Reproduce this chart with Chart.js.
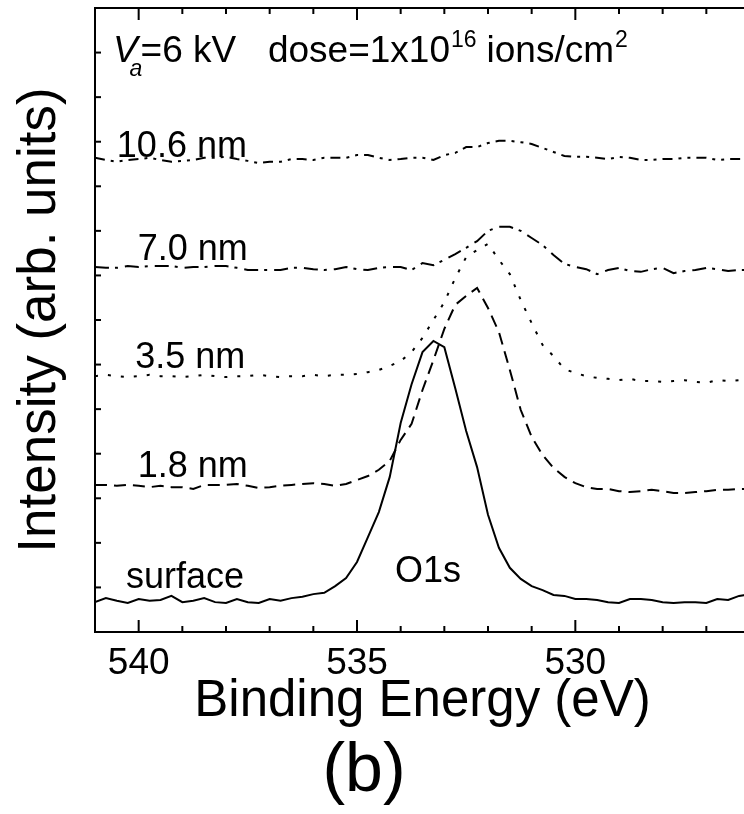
<!DOCTYPE html>
<html><head><meta charset="utf-8">
<script src="https://cdn.jsdelivr.net/npm/chart.js@4.4.0/dist/chart.umd.min.js"></script>
<style>
html,body{margin:0;padding:0;background:#fff;overflow:hidden;}
#wrap{width:760px;height:814px;position:relative;}
</style></head><body>
<div id="wrap"><canvas id="c"></canvas></div>
<script>
// ---- data (binding energy in eV, intensity in arb. units) ----
const energies = [541,540.75,540.5,540.25,540,539.75,539.5,539.25,539,538.75,
  538.5,538.25,538,537.75,537.5,537.25,537,536.75,536.5,536.25,
  536,535.75,535.5,535.25,535,534.75,534.5,534.25,534,533.75,
  533.5,533.25,533,532.75,532.5,532.25,532,531.75,531.5,531.25,
  531,530.75,530.5,530.25,530,529.75,529.5,529.25,529,528.75,
  528.5,528.25,528,527.75,527.5,527.25,527,526.75,526.5,526.25,526];
const surface = [0.67,0.76,0.70,0.65,0.74,0.70,0.72,0.81,0.67,0.70,
  0.76,0.67,0.65,0.74,0.67,0.65,0.74,0.70,0.76,0.79,
  0.85,0.88,1.03,1.21,1.57,2.13,2.69,3.48,4.69,5.56,
  6.28,6.53,6.39,5.47,4.51,3.70,2.63,1.89,1.44,1.19,
  1.03,0.94,0.83,0.81,0.74,0.74,0.72,0.67,0.65,0.74,
  0.74,0.72,0.67,0.65,0.67,0.67,0.65,0.74,0.72,0.81,0.85];
const nm18 = [3.30,3.30,3.28,3.30,3.28,3.25,3.28,3.25,3.25,3.21,
  3.30,3.30,3.30,3.32,3.28,3.23,3.25,3.28,3.30,3.32,
  3.34,3.32,3.28,3.32,3.41,3.50,3.64,3.84,4.31,4.67,
  5.43,6.10,6.80,7.34,7.54,7.72,7.27,6.73,5.88,4.98,
  4.38,3.97,3.68,3.48,3.34,3.25,3.21,3.21,3.16,3.14,
  3.16,3.19,3.16,3.12,3.12,3.14,3.16,3.19,3.19,3.21,3.21];
const nm35 = [5.74,5.77,5.74,5.72,5.74,5.77,5.74,5.74,5.72,5.74,
  5.77,5.74,5.72,5.74,5.74,5.77,5.74,5.72,5.74,5.74,
  5.77,5.74,5.77,5.77,5.79,5.83,5.88,5.97,6.08,6.28,
  6.60,7.00,7.40,7.94,8.41,8.57,8.71,8.35,8.03,7.45,
  6.93,6.44,6.19,5.90,5.81,5.74,5.70,5.68,5.65,5.68,
  5.63,5.63,5.61,5.63,5.65,5.61,5.59,5.65,5.63,5.65,5.65];
const nm70 = [8.19,8.17,8.17,8.21,8.19,8.21,8.21,8.21,8.17,8.19,
  8.19,8.21,8.21,8.17,8.12,8.12,8.12,8.12,8.17,8.17,
  8.14,8.12,8.14,8.19,8.14,8.12,8.17,8.19,8.19,8.12,
  8.28,8.23,8.35,8.48,8.62,8.77,9.00,9.09,9.09,9.00,
  8.84,8.68,8.46,8.26,8.19,8.14,8.03,8.12,8.17,8.10,
  8.08,8.14,8.17,8.05,8.10,8.12,8.17,8.14,8.10,8.12,8.12];
const nm106 = [10.64,10.59,10.55,10.59,10.61,10.64,10.59,10.55,10.57,10.59,
  10.64,10.64,10.66,10.61,10.57,10.52,10.55,10.55,10.61,10.61,
  10.59,10.64,10.64,10.64,10.70,10.70,10.64,10.59,10.61,10.64,
  10.64,10.59,10.70,10.75,10.88,10.88,10.97,11.02,11.02,10.99,
  10.95,10.86,10.77,10.68,10.66,10.66,10.64,10.61,10.66,10.64,
  10.59,10.59,10.61,10.61,10.64,10.64,10.64,10.59,10.61,10.61,10.61];
const xTickLabels = [540, 535, 530];
const seriesNames = ['surface', '1.8 nm', '3.5 nm', '7.0 nm', '10.6 nm'];

// annotation anchors in data units (eV, intensity)
const annotations = [
  {text: '10.6 nm', x: 540.50, y: 10.66},
  {text: '7.0 nm',  x: 540.02, y: 8.35},
  {text: '3.5 nm',  x: 540.08, y: 5.92},
  {text: '1.8 nm',  x: 540.02, y: 3.48},
  {text: 'surface', x: 540.29, y: 0.99},
  {text: 'O1s',     x: 534.13, y: 1.12}
];
const headerAnchor = {x: 540.59, y: 12.79};

const FONT = '"Liberation Sans", Arial, Helvetica, sans-serif';
const pts = arr => energies.map((e, i) => ({x: e, y: arr[i]}));
const styles = [[], [12, 7], [3, 10], [14, 6, 3, 7], [10, 6, 3, 6, 3, 6]];
const seriesData = [surface, nm18, nm35, nm70, nm106];

const decor = {
  id: 'decor',
  afterDraw(chart) {
    const {ctx, chartArea: a, scales: {x, y}} = chart;
    ctx.save();
    ctx.strokeStyle = '#000';
    ctx.lineWidth = 2;
    ctx.strokeRect(a.left, a.top, a.right - a.left, a.bottom - a.top);
    for (let e = Math.ceil(x.min); e <= Math.floor(x.max); e++) {
      const px = x.getPixelForValue(e);
      if (px <= a.left + 1 || px >= a.right - 1) continue;
      const len = e % 5 === 0 ? 12 : 6;
      ctx.beginPath();
      ctx.moveTo(px, a.bottom); ctx.lineTo(px, a.bottom - len);
      ctx.moveTo(px, a.top); ctx.lineTo(px, a.top + len);
      ctx.stroke();
    }
    for (let v = Math.ceil(y.min) + 1; v < y.max; v++) {
      const py = y.getPixelForValue(v);
      ctx.beginPath(); ctx.moveTo(a.left, py); ctx.lineTo(a.left + 6, py); ctx.stroke();
    }
    ctx.fillStyle = '#000';
    ctx.textAlign = 'left';
    ctx.textBaseline = 'alphabetic';
    ctx.font = '36px ' + FONT;
    annotations.forEach(l => ctx.fillText(l.text, x.getPixelForValue(l.x), y.getPixelForValue(l.y)));
    // header line
    const hx = x.getPixelForValue(headerAnchor.x), hy = y.getPixelForValue(headerAnchor.y);
    ctx.font = 'italic 37px ' + FONT;
    ctx.fillText('V', hx, hy);
    let cx = hx + ctx.measureText('V').width;
    ctx.font = 'italic 23px ' + FONT;
    ctx.fillText('a', cx - 8, hy + 14);
    ctx.font = '37px ' + FONT;
    ctx.fillText('=6 kV', cx + 3, hy);
    cx = hx + 155;
    ctx.fillText('dose=1x10', cx, hy);
    cx += ctx.measureText('dose=1x10').width;
    ctx.font = '23px ' + FONT;
    ctx.fillText('16', cx + 1, hy - 15);
    cx += ctx.measureText('16').width + 11;
    ctx.font = '37px ' + FONT;
    ctx.fillText('ions/cm', cx, hy);
    cx += ctx.measureText('ions/cm').width;
    ctx.font = '23px ' + FONT;
    ctx.fillText('2', cx + 1, hy - 15);
    // panel letter
    ctx.font = '68px ' + FONT;
    ctx.textAlign = 'center';
    ctx.fillText('(b)', 364, 791);
    ctx.restore();
  }
};

new Chart(document.getElementById('c'), {
  type: 'line',
  data: {
    datasets: seriesData.map((arr, i) => ({
      label: seriesNames[i],
      data: pts(arr),
      borderColor: '#000',
      borderWidth: 2,
      borderDash: styles[i],
      pointRadius: 0,
      tension: 0,
      fill: false
    }))
  },
  options: {
    responsive: true,
    maintainAspectRatio: false,
    animation: false,
    layout: {padding: {top: 8, right: 10, left: 0, bottom: 0}},
    plugins: {legend: {display: false}, tooltip: {enabled: false}},
    scales: {
      x: {
        type: 'linear', reverse: true, min: 526, max: 541,
        grid: {display: false, drawTicks: false},
        border: {display: false},
        afterBuildTicks: s => { s.ticks = xTickLabels.map(v => ({value: v})); },
        afterFit: s => { s.height = 182; },
        ticks: {color: '#000', font: {family: FONT, size: 37}, padding: 10, autoSkip: false, maxRotation: 0},
        title: {display: true, text: 'Binding Energy (eV)', color: '#000',
                font: {family: FONT, size: 51}, padding: {top: 0, bottom: 81}}
      },
      y: {
        type: 'linear', min: 0, max: 14,
        grid: {display: false, drawTicks: false},
        border: {display: false},
        ticks: {display: false},
        afterFit: s => { s.width = 95; },
        title: {display: true, text: 'Intensity (arb. units)', color: '#000',
                font: {family: FONT, size: 53}, padding: {top: 9, bottom: 0}}
      }
    }
  },
  plugins: [decor]
});
</script>
</body></html>
